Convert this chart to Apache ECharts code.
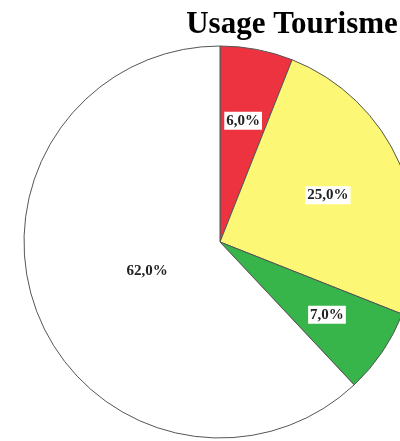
<!DOCTYPE html>
<html><head><meta charset="utf-8">
<script src="https://cdn.jsdelivr.net/npm/echarts@6/dist/echarts.min.js"></script>
<style>html,body{margin:0;padding:0;background:#fff}#c{width:400px;height:441px}</style>
</head><body><div id="c"></div>
<script>
const titleText = 'Usage Tourisme';
const categories = ['A', 'B', 'C', 'D'];
const values = [6.0, 25.0, 7.0, 62.0];
const colors = ['#ee3340', '#fcf775', '#37b54a', '#ffffff'];
const labelRadiusFrac = [0.63, 0.60, 0.66, 0.40];

const cx = 220, cy = 242, R = 196;
const total = values.reduce((a, b) => a + b, 0);
const mids = [];
let acc = 0;
values.forEach(v => { mids.push((acc + v / 2) / total * 2 * Math.PI); acc += v; });

const chart = echarts.init(document.getElementById('c'), null, {renderer: 'canvas'});
chart.setOption({
  animation: false,
  title: {
    text: titleText, left: 287, top: 4, textAlign: 'center',
    textStyle: {fontFamily: 'Liberation Serif', fontWeight: 'bold', fontSize: 31, color: '#000'}
  },
  series: [{
    type: 'pie',
    center: [cx, cy],
    radius: R,
    startAngle: 90,
    clockwise: true,
    data: categories.map((c, i) => ({name: c, value: values[i], itemStyle: {color: colors[i]}})),
    itemStyle: {borderColor: '#555', borderWidth: 1},
    label: {
      show: true, position: 'inside',
      formatter: p => p.value.toFixed(1).replace('.', ',') + '%',
      fontFamily: 'Liberation Serif', fontWeight: 'bold', fontSize: 15, color: '#222',
      backgroundColor: '#fff', padding: [2, 2, 1, 2]
    },
    labelLayout: function (p) {
      const a = mids[p.dataIndex];
      const r = R * labelRadiusFrac[p.dataIndex];
      return {x: cx + r * Math.sin(a), y: cy - r * Math.cos(a), align: 'center', verticalAlign: 'middle'};
    },
    emphasis: {disabled: true}
  }]
});
</script></body></html>
